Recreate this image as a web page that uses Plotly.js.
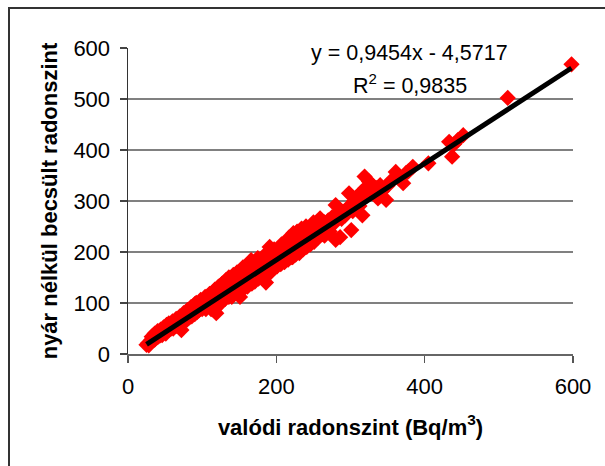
<!DOCTYPE html>
<html>
<head>
<meta charset="utf-8">
<script src="https://cdn.plot.ly/plotly-3.0.1.min.js"></script>
<style>
  html, body { margin: 0; padding: 0; background: #fff; overflow: hidden; }
  #wrap { position: relative; width: 605px; height: 466px; }
  #chart { width: 605px; height: 466px; }
  /* chart-area frame (left and top edges are visible in the window) */
  #frame {
    position: absolute; left: 8px; top: 7px; width: 700px; height: 600px;
    border-left: 2px solid #333; border-top: 2px solid #333;
    pointer-events: none;
  }
</style>
</head>
<body>
<div id="wrap">
  <div id="chart"></div>
  <div id="frame"></div>
</div>
<script>
// Measured radon level (Bq/m3) vs. level estimated without the summer period
const valodi = [
  25, 27, 28, 30, 31, 33, 35, 36, 38, 40, 41, 43, 45, 46, 48, 50, 51, 53, 55, 56,
  58, 60, 61, 63, 65, 66, 68, 70, 71, 72, 73, 75, 76, 78, 80, 81, 83, 85, 86, 88,
  90, 91, 92, 93, 95, 96, 98, 100, 101, 103, 105, 106, 108, 110, 111, 112, 113, 115, 116, 118,
  119, 120, 121, 123, 125, 126, 128, 130, 131, 133, 135, 136, 138, 140, 141, 143, 145, 146, 148, 150,
  151, 153, 155, 156, 158, 160, 161, 163, 165, 166, 167, 168, 170, 171, 173, 175, 176, 178, 180, 181,
  183, 185, 186, 188, 190, 191, 192, 193, 195, 196, 198, 200, 201, 203, 205, 206, 208, 210, 211, 213,
  215, 216, 218, 220, 221, 223, 225, 226, 228, 230, 231, 233, 234, 235, 236, 238, 240, 241, 243, 245,
  246, 248, 250, 251, 253, 255, 256, 259, 260, 262, 265, 265, 268, 270, 270, 272, 275, 277, 280, 280,
  283, 286, 288, 290, 293, 295, 298, 300, 301, 303, 305, 308, 310, 312, 315, 316, 318, 319, 320, 322,
  325, 328, 330, 333, 335, 337, 340, 343, 348, 350, 355, 361, 365, 371, 375, 378, 384, 405, 433, 437,
  440, 445, 452, 512, 598,
  32, 36, 40, 44, 48, 52, 55, 60, 65, 70, 75, 80, 85, 90, 98, 104, 110, 117, 122, 127,
  132, 136, 142, 147, 140, 125, 105, 155, 175, 185, 197, 207, 217, 228, 240, 250, 222, 205, 190, 170,
  158
];
const becsult = [
  18, 21, 17, 24, 27, 26, 30, 28, 35, 33, 38, 36, 41, 37, 45, 43, 40, 49, 47, 52,
  50, 56, 50, 58, 55, 62, 60, 66, 58, 47, 64, 70, 63, 73, 68, 76, 72, 80, 74, 84,
  78, 88, 100, 82, 92, 86, 95, 88, 98, 92, 102, 95, 105, 97, 110, 88, 100, 112, 104, 118,
  80, 108, 94, 120, 112, 104, 125, 115, 108, 130, 120, 112, 135, 125, 115, 140, 130, 120, 145, 135,
  112, 148, 140, 128, 152, 145, 132, 158, 150, 184, 138, 165, 155, 142, 170, 160, 148, 175, 165, 152,
  178, 170, 140, 185, 175, 210, 160, 195, 182, 168, 200, 188, 172, 205, 192, 176, 210, 196, 180, 212,
  200, 185, 218, 205, 190, 237, 210, 195, 222, 215, 198, 228, 246, 220, 205, 243, 225, 210, 235, 230,
  215, 240, 235, 220, 248, 240, 228, 266, 245, 235, 258, 232, 250, 262, 240, 240, 268, 255, 292, 224,
  275, 229, 265, 278, 272, 285, 315, 290, 243, 280, 300, 295, 310, 290, 318, 272, 305, 348, 325, 310,
  338, 320, 330, 315, 325, 305, 331, 320, 302, 330, 340, 357, 345, 335, 355, 358, 367, 374, 416, 387,
  412, 420, 429, 502, 568,
  34, 40, 45, 48, 52, 57, 60, 64, 69, 74, 80, 86, 92, 98, 106, 112, 118, 126, 132, 138,
  145, 150, 155, 160, 112, 100, 88, 170, 188, 195, 205, 215, 228, 240, 250, 258, 190, 178, 165, 148,
  135
];

// Linear trend (Excel-style), as printed on the chart
const slope = 0.9454;
const intercept = -4.5717;
const r2 = 0.9835;

const xTicks = [0, 200, 400, 600];
const yTicks = [0, 100, 200, 300, 400, 500, 600];

const fmt = (v, d) => v.toFixed(d).replace('.', ',');

const xMin = Math.min(...valodi);
const xMax = Math.max(...valodi);
const trendX = [xMin, xMax];
const trendY = trendX.map(v => slope * v + intercept);

const FONT = '"Liberation Sans", Arial, sans-serif';

const traces = [
  {
    type: 'scatter', mode: 'markers',
    x: valodi, y: becsult,
    marker: { symbol: 'diamond', size: 12.5, color: '#ff0000', line: { width: 0 } },
    cliponaxis: false,
    hoverinfo: 'x+y'
  },
  {
    type: 'scatter', mode: 'lines',
    x: trendX, y: trendY,
    line: { color: '#000000', width: 5 },
    cliponaxis: false,
    hoverinfo: 'skip'
  }
];

const layout = {
  width: 605, height: 466,
  margin: { l: 128, r: 32, t: 48, b: 112 },
  paper_bgcolor: '#ffffff', plot_bgcolor: '#ffffff',
  showlegend: false,
  font: { family: FONT, size: 22, color: '#000' },
  xaxis: {
    range: [0, 600], tickvals: xTicks, ticktext: xTicks.map(String),
    showgrid: false, zeroline: false,
    showline: true, linecolor: '#666', linewidth: 1.5,
    ticks: 'outside', ticklen: 7, tickwidth: 1.5, tickcolor: '#555',
    ticklabelstandoff: 5,
    tickfont: { family: FONT, size: 22, color: '#000' },
    title: {
      text: 'valódi radonszint (Bq/m<sup>3</sup>)',
      font: { family: FONT, size: 22, color: '#000', weight: 'bold' },
      standoff: 21
    },
    fixedrange: true
  },
  yaxis: {
    range: [0, 600], tickvals: yTicks, ticktext: yTicks.map(String),
    showgrid: true, gridcolor: '#808080', gridwidth: 1.3,
    zeroline: false,
    showline: true, linecolor: '#333', linewidth: 1.5,
    ticks: 'outside', ticklen: 7, tickwidth: 1.5, tickcolor: '#444',
    ticklabelstandoff: 5,
    tickfont: { family: FONT, size: 22, color: '#000' },
    title: {
      text: 'nyár nélkül becsült radonszint',
      font: { family: FONT, size: 22, color: '#000', weight: 'bold' },
      standoff: 9
    },
    fixedrange: true
  },
  annotations: [
    {
      xref: 'x', yref: 'y', x: 380, y: 591, showarrow: false,
      text: 'y = ' + fmt(slope, 4) + 'x - ' + fmt(-intercept, 4),
      font: { family: FONT, size: 21.5, color: '#000' }
    },
    {
      xref: 'x', yref: 'y', x: 380, y: 530, showarrow: false,
      text: 'R<sup>2</sup> = ' + fmt(r2, 4),
      font: { family: FONT, size: 21.5, color: '#000' }
    }
  ]
};

Plotly.newPlot('chart', traces, layout, { displayModeBar: false, staticPlot: true });
</script>
</body>
</html>
